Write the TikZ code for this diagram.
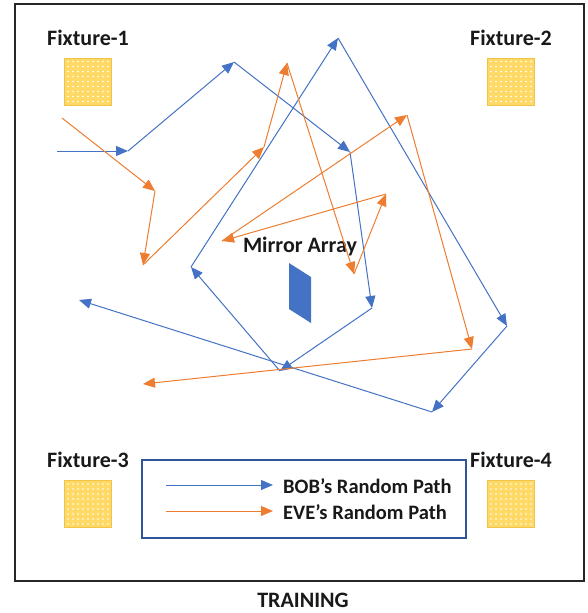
\documentclass[tikz,border=0pt]{standalone}
\usepackage{fontspec}
\setmainfont{Carlito}
\usetikzlibrary{arrows.meta,calc}
\definecolor{bobc}{HTML}{4472C4}
\definecolor{evec}{HTML}{ED7D31}
\definecolor{fixfill}{HTML}{FFD966}
\definecolor{fixedge}{HTML}{F2C34A}
\definecolor{legedge}{HTML}{2F5597}
\tikzset{
  bob/.style={draw=bobc, line width=1pt, -{Triangle[length=12pt,width=10pt]}},
  eve/.style={draw=evec, line width=1pt, -{Triangle[length=12pt,width=10pt]}},
  lbl/.style={font=\fontsize{22}{25}\selectfont\bfseries, text=black!90, inner sep=0pt},
  legtxt/.style={font=\fontsize{20.5}{23}\selectfont\bfseries, text=black!90, inner sep=0pt, anchor=west},
  fixbox/.style={draw=fixedge, fill=fixfill, line width=0.8pt, minimum size=47pt, inner sep=0pt}
}
\begin{document}
\begin{tikzpicture}[x=1pt,y=-1pt]
\useasboundingbox (0,0) rectangle (588,613);
\fill[white] (0,0) rectangle (588,613);
% frame
\draw[black!85, line width=2pt] (15,4) rectangle (584,581);
% fixtures
\foreach \n/\cx/\cy/\lx/\ly in {1/88/81.5/88/38, 2/511/81.5/511/38, 3/88/504/88/460, 4/511/504/511/460}{
  \node[lbl] (flab\n) at (\lx,\ly) {Fixture-\n};
  \node[fixbox] (fix\n) at (\cx,\cy) {};
  \foreach \i in {0,...,8}{
    \foreach \j in {0,...,8}{
      \fill[white] ($(\cx,\cy)+(-20+\i*5,-20+\j*5)$) circle (0.9pt);
    }
  }
}
% mirror array
\node[lbl] (mlab) at (300,247) {Mirror Array};
\fill[bobc] (289,263) -- (311,277) -- (311,323) -- (289,309) -- cycle;
% BOB path
\coordinate (b0) at (57,151);
\coordinate (b1) at (128,151);
\coordinate (b2) at (234,62);
\coordinate (b3) at (350,152);
\coordinate (b4) at (372,308);
\coordinate (b5) at (280,371);
\coordinate (b6) at (191,267);
\coordinate (b7) at (338,38);
\coordinate (b8) at (507,326);
\coordinate (b9) at (432,412);
\coordinate (b10) at (79,300);
\draw[bob] (b0) -- (b1);
\draw[bob] (b1) -- (b2);
\draw[bob] (b2) -- (b3);
\draw[bob] (b3) -- (b4);
\draw[bob] (b4) -- (b5);
\draw[bob] (b5) -- (b6);
\draw[bob] (b6) -- (b7);
\draw[bob] (b7) -- (b8);
\draw[bob] (b8) -- (b9);
\draw[bob] (b9) -- (b10);
% EVE path
\coordinate (e0) at (62,118);
\coordinate (e1) at (155,191);
\coordinate (e2) at (143,265);
\coordinate (e3) at (264,147);
\coordinate (e4) at (287,63);
\coordinate (e5) at (354,274);
\coordinate (e6) at (386,194);
\coordinate (e7) at (222,241);
\coordinate (e8) at (407,115);
\coordinate (e9) at (472,349);
\coordinate (e10) at (143,384);
\draw[eve] (e0) -- (e1);
\draw[eve] (e1) -- (e2);
\draw[eve] (e2) -- (e3);
\draw[eve] (e3) -- (e4);
\draw[eve] (e4) -- (e5);
\draw[eve] (e5) -- (e6);
\draw[eve] (e6) -- (e7);
\draw[eve] (e7) -- (e8);
\draw[eve] (e8) -- (e9);
\draw[eve] (e9) -- (e10);
% legend
\draw[legedge, line width=1.6pt] (142,460) rectangle (466,538);
\coordinate (lb0) at (166,485);
\coordinate (lb1) at (273,485);
\coordinate (le0) at (166,511);
\coordinate (le1) at (273,511);
\draw[bob] (lb0) -- (lb1);
\draw[eve] (le0) -- (le1);
\node[legtxt] (lbt) at (283,486) {BOB’s Random Path};
\node[legtxt] (let) at (283,512) {EVE’s Random Path};
% title
\node[lbl] (title) at (303,600) {TRAINING};
\end{tikzpicture}
\end{document}
